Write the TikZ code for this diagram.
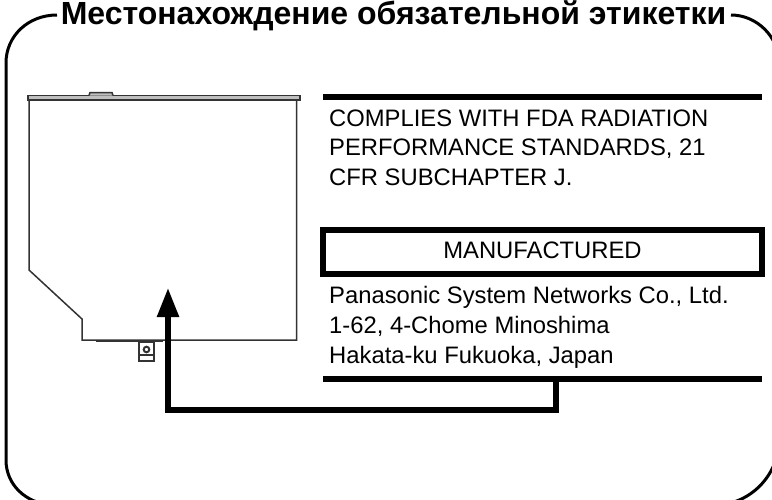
\documentclass[tikz,border=0pt]{standalone}
\usepackage{fontspec}
\setmainfont{Liberation Sans}
\usetikzlibrary{positioning,arrows.meta}
\tikzset{
  frameline/.style={line width=3pt,black},
  rulebar/.style={line width=6pt,black},
  drawing/.style={line width=1.5pt,black!80},
  labeltext/.style={anchor=base west,inner sep=0pt,font=\fontsize{23.8}{28}\selectfont},
}
\begin{document}
\begin{tikzpicture}[x=1pt,y=-1pt]
    \useasboundingbox (0,0) rectangle (772,499);
    % Titre
    \node[anchor=base,inner sep=0pt,font=\fontsize{32}{36}\selectfont\bfseries] (title) at (393.5,24) {Местонахождение обязательной этикетки};
    \coordinate (frameA) at (57,15);
    \coordinate (frameB) at (731,15);

    % Cadre
    \begin{scope}
    \clip (0,0) rectangle (772,499);
    \draw[frameline] (frameA) .. controls (28,15) and (6,36) .. (6,63) -- (6,460) .. controls (6,485) and (26,503) .. (51,505) -- (715,505) .. controls (750,505) and (779,475) .. (779,440) -- (779,63) .. controls (779,37) and (757,15) .. (frameB);
    \end{scope}

    % Lecteur
    \draw[drawing,fill=black!25] (28,95.5) rectangle (300,100);
    \draw[drawing,fill=black!25] (89,95.5) -- (90,92.5) -- (112,92.5) -- (113,95.5);
    \draw[drawing] (29,100) -- (29,270) -- (82,319) -- (82,340) -- (296.5,340) -- (296.5,100);
    \draw[drawing] (96,341) -- (163,341);
    \draw[drawing] (139,342) rectangle (154,361);
    \draw[drawing] (139,355) -- (154,355);
    \draw[drawing,line width=2pt] (146.5,349.5) circle (2.8pt);

    % Etiquette
    \draw[rulebar] (323,97) -- (762,97);
    \node[labeltext] (fda1) at (329,126) {COMPLIES WITH FDA RADIATION};
    \node[labeltext] (fda2) at (329,155) {PERFORMANCE STANDARDS, 21};
    \node[labeltext] (fda3) at (329,185) {CFR SUBCHAPTER J.};
    \node[draw,line width=6pt,minimum width=439pt,minimum height=44.5pt,inner sep=0pt,outer sep=0pt,anchor=north west] (maker) at (323,229.5) {};
    \node[anchor=base,inner sep=0pt,font=\fontsize{23.8}{28}\selectfont] (makertext) at (542.5,258) {MANUFACTURED};
    \node[labeltext] (addr1) at (329,303) {Panasonic System Networks Co., Ltd.};
    \node[labeltext] (addr2) at (329,333) {1-62, 4-Chome Minoshima};
    \node[labeltext] (addr3) at (329,363) {Hakata-ku Fukuoka, Japan};
    \draw[rulebar] (323,379) -- (762,379);

    % Fleche
    \coordinate (start) at (556,379);
    \coordinate (target) at (168,288);
    \draw[line width=5.5pt,-{Triangle[length=29pt,width=21pt]},line join=miter] (start) -- (556,410) -- (168,410) -- (target);
\end{tikzpicture}
\end{document}
